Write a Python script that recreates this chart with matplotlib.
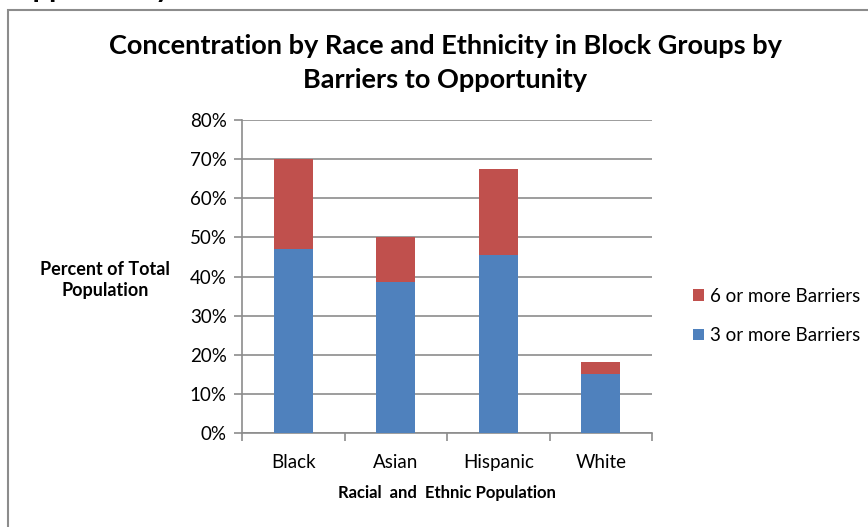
import matplotlib.pyplot as plt
from matplotlib.patches import Rectangle
from matplotlib.ticker import PercentFormatter

groups = ["Black", "Asian", "Hispanic", "White"]
three_plus = [47.0, 38.7, 45.4, 15.2]
six_plus = [23.0, 11.3, 22.1, 2.9]

plt.rcParams["font.family"] = ["Lato", "DejaVu Sans"]

fig = plt.figure(figsize=(8.68, 5.27), dpi=100)
ax = fig.add_axes([242 / 868, 1 - 433 / 527, 410 / 868, 313 / 527])

x = range(len(groups))
ax.bar(x, three_plus, width=0.38, color="#4F81BD", label="3 or more Barriers", zorder=3)
ax.bar(x, six_plus, width=0.38, bottom=three_plus, color="#C0504D",
       label="6 or more Barriers", zorder=3)

ax.set_xlim(-0.5, len(groups) - 0.5)
ax.set_ylim(0, 80)
ax.set_yticks(range(0, 81, 10))
ax.yaxis.set_major_formatter(PercentFormatter(decimals=0))
ax.grid(axis="y", color="#8c8c8c", linewidth=1.2, zorder=0)

ax.set_xticks([i - 0.5 for i in range(len(groups) + 1)])
ax.set_xticklabels([])
ax.set_xticks(list(x), minor=True)
ax.set_xticklabels(groups, minor=True)
ax.tick_params(axis="x", which="major", length=6, color="#8c8c8c", width=1.2)
ax.tick_params(axis="x", which="minor", length=0, pad=15, labelsize=13.5)
ax.tick_params(axis="y", length=6, color="#8c8c8c", width=1.2, labelsize=13.5, pad=5)

for side in ["top", "right"]:
    ax.spines[side].set_visible(False)
for side in ["left", "bottom"]:
    ax.spines[side].set_color("#8c8c8c")
    ax.spines[side].set_linewidth(1.2)

ax.set_xlabel("Racial  and  Ethnic Population", fontsize=12, fontweight="bold", labelpad=10)

fig.text(105 / 868, 1 - 280 / 527, "Percent of Total\nPopulation", ha="center", va="center",
         fontsize=13, fontweight="bold", linespacing=1.25)

fig.text(445 / 868, 1 - 63 / 527,
         "Concentration by Race and Ethnicity in Block Groups by\nBarriers to Opportunity",
         ha="center", va="center", fontsize=19.5, fontweight="bold", linespacing=1.5)

# cut-off text from the page above the chart
fig.text(10 / 868, 1 + 3 / 527, "Opportunity", ha="left", va="baseline",
         fontsize=21, fontweight="bold")

# chart frame
fig.patches.append(Rectangle((8 / 868, -0.1), 1.2, 1 - 10 / 527 + 0.1,
                             transform=fig.transFigure, fill=False,
                             edgecolor="#8c8c8c", linewidth=1.5))

handles, labels = ax.get_legend_handles_labels()
fig.legend(handles[::-1], labels[::-1], loc="center left",
           bbox_to_anchor=(684 / 868, 1 - 316 / 527), frameon=False,
           fontsize=13.5, handlelength=0.55, handleheight=0.55, handletextpad=0.35,
           labelspacing=1.2, borderpad=0)

plt.savefig("out.png", dpi=100)
